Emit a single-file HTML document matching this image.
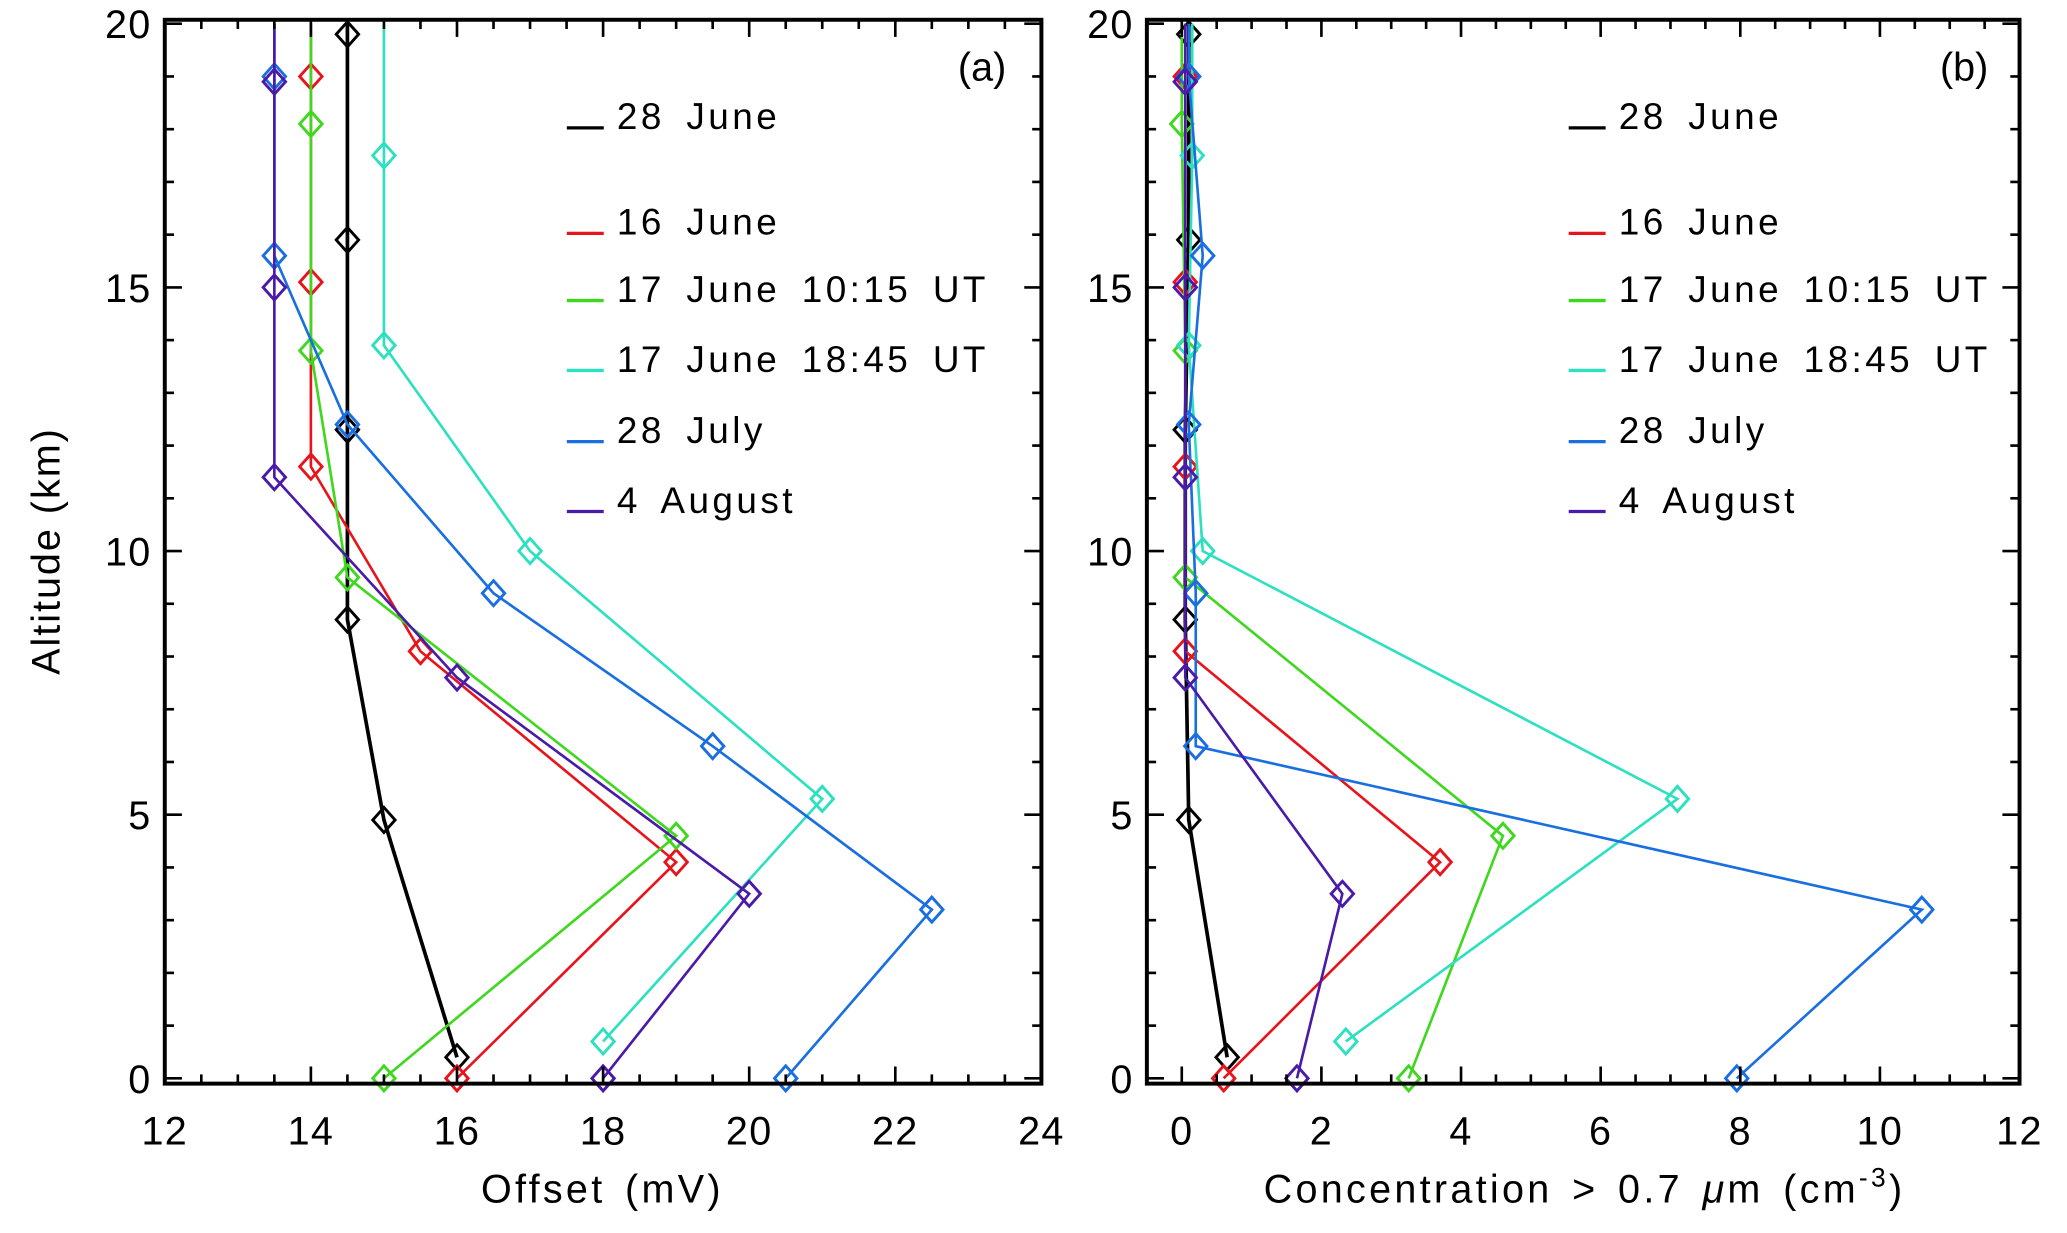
<!DOCTYPE html>
<html><head><meta charset="utf-8"><style>
html,body{margin:0;padding:0;background:#fff;}
svg{display:block;font-family:"Liberation Sans",sans-serif;}
</style></head><body>
<svg id="chart" width="2067" height="1233" viewBox="0 0 1568 935.3" preserveAspectRatio="none" xmlns="http://www.w3.org/2000/svg">
<rect width="1568" height="935.3" fill="#fff"/>
<g id="root"></g>
</svg>
<script>
const seriesNames = ["28 June","16 June","17 June 10:15 UT","17 June 18:45 UT","28 July","4 August"];
const seriesColors = ["#000000","#e8141c","#3fd81e","#2de0c0","#1a6fe0","#4a1aa8"];
const altBlack = [19.8,15.9,12.3,8.7,4.9,0.4];
const altRed = [19,15.1,11.6,8.1,4.1,0];
const altGreen = [18.1,13.8,9.5,4.6,0];
const altCyan = [17.5,13.9,10,5.3,0.7];
const altBlue = [19,15.6,12.4,9.2,6.3,3.2,0];
const altPurple = [18.9,15,11.4,7.6,3.5,0];
const offBlack = [14.5,14.5,14.5,14.5,15,16];
const offRed = [14,14,14,15.5,19,16];
const offGreen = [14,14,14.5,19,15];
const offCyan = [15,15,17,21,18];
const offBlue = [13.5,13.5,14.5,16.5,19.5,22.5,20.5];
const offPurple = [13.5,13.5,13.5,16,20,18];
const concBlack = [0.1,0.1,0.05,0.05,0.1,0.65];
const concRed = [0.05,0.05,0.05,0.05,3.7,0.6];
const concGreen = [0,0.05,0.05,4.6,3.25];
const concCyan = [0.15,0.1,0.3,7.1,2.35];
const concBlue = [0.1,0.3,0.1,0.2,0.2,10.6,7.95];
const concPurple = [0.05,0.05,0.05,0.05,2.3,1.65];
const xTicksA = [12,14,16,18,20,22,24];
const xTicksB = [0,2,4,6,8,10,12];
const yTicks = [0,5,10,15,20];

const NS="http://www.w3.org/2000/svg";
const root=document.getElementById('root');
function mk(tag,attrs,parent){const e=document.createElementNS(NS,tag);for(const k in attrs)e.setAttribute(k,attrs[k]);(parent||root).appendChild(e);return e;}

const alts=[altBlack,altRed,altGreen,altCyan,altBlue,altPurple];
const panels=[
 {id:'a',x0:125,x1:790,xmin:12,xmax:24,minor:0.5,ticks:xTicksA,vals:[offBlack,offRed,offGreen,offCyan,offBlue,offPurple],title:'Offset (mV)',tx:457,label:'(a)',lx:745,legX:430},
 {id:'b',x0:870,x1:1532,xmin:-0.5,xmax:12,minor:0.5,ticks:xTicksB,vals:[concBlack,concRed,concGreen,concCyan,concBlue,concPurple],title:null,tx:1202,label:'(b)',lx:1490,legX:1190}
];
const yTop=15,yBot=822;
function Y(v){return 818-(v)*40;}
const legY=[87,167,218,271,325,378];

panels.forEach(p=>{
  const g=mk('g',{});
  
  
  const X=v=>p.x0+(v-p.xmin)*(p.x1-p.x0)/(p.xmax-p.xmin);
  p.vals.forEach((vals,i)=>{
    const sg=mk('g',{},g);
    
    
    const al=alts[i];
    let pts=[[X(vals[0]),Y(20)]];
    vals.forEach((v,j)=>pts.push([X(v),Y(al[j])]));
    const pl=mk('polyline',{points:pts.map(q=>q.join(',')).join(' '),fill:'none',stroke:seriesColors[i],'stroke-width':i==0?2.8:2},sg);
    
    
    vals.forEach((v,j)=>{
      const cx=X(v),cy=Y(al[j]);
      const d=mk('polygon',{points:`${cx},${cy-9.5} ${cx+8.5},${cy} ${cx},${cy+9.5} ${cx-8.5},${cy}`,fill:'none',stroke:seriesColors[i],'stroke-width':2.2},sg);
      
      
    });
  });
  const fr=mk('rect',{x:p.x0,y:yTop,width:p.x1-p.x0,height:yBot-yTop,fill:'none',stroke:'#000','stroke-width':3},g);
  
  
  for(let v=Math.ceil(p.xmin/p.minor)*p.minor; v<=p.xmax+1e-9; v+=p.minor){
    const major=Math.abs(v/2-Math.round(v/2))<1e-9;
    const L=major?13:7;const x=X(v);
    mk('line',{x1:x,y1:yBot,x2:x,y2:yBot-L,stroke:'#000','stroke-width':2},g);
    mk('line',{x1:x,y1:yTop,x2:x,y2:yTop+L,stroke:'#000','stroke-width':2},g);
  }
  p.ticks.forEach(v=>{
    const t=mk('text',{x:X(v),y:868,'font-size':30,'text-anchor':'middle',fill:'#000','letter-spacing':1},g);
    t.textContent=v;
    
    
  });
  for(let v=0;v<=20;v++){
    const L=(v%5==0)?13:7;const y=Y(v);
    mk('line',{x1:p.x0,y1:y,x2:p.x0+L,y2:y,stroke:'#000','stroke-width':2},g);
    mk('line',{x1:p.x1,y1:y,x2:p.x1-L,y2:y,stroke:'#000','stroke-width':2},g);
  }
  yTicks.forEach(v=>{
    const t=mk('text',{x:p.x0-10,y:Y(v)+11,'font-size':30,'text-anchor':'end',fill:'#000','letter-spacing':1},g);
    t.textContent=v;
    
    
  });
  const pl=mk('text',{x:p.lx,y:61,'font-size':30,'text-anchor':'middle',fill:'#000'},g);
  pl.textContent=p.label;
  
  
  const lg=mk('g',{},g);
  
  
  seriesNames.forEach((n,i)=>{
    const e=mk('g',{},lg);
    
    
    mk('line',{x1:p.legX,y1:legY[i]+10,x2:p.legX+28,y2:legY[i]+10,stroke:seriesColors[i],'stroke-width':2.5},e);
    const t=mk('text',{x:p.legX+38,y:legY[i]+11,'font-size':28,fill:'#000','letter-spacing':2.6,'word-spacing':6},e);
    t.textContent=n;
  });
  const xt=mk('text',{x:p.tx,y:912,'font-size':30,'text-anchor':'middle',fill:'#000','letter-spacing':2.5,'word-spacing':4},g);
  if(p.title){xt.textContent=p.title;}
  else{
    xt.appendChild(document.createTextNode('Concentration > 0.7 '));
    const it=mk('tspan',{'font-style':'italic'},xt);it.textContent='\u03bc';
    xt.appendChild(document.createTextNode('m (cm'));
    const sp=mk('tspan',{dy:-12,'font-size':20},xt);sp.textContent='-3';
    const cl=mk('tspan',{dy:12},xt);cl.textContent=')';
  }
  
  
});
const yt=mk('text',{x:0,y:0,'font-size':30,'text-anchor':'middle',fill:'#000',transform:'translate(45,418) rotate(-90)','letter-spacing':1.5});
yt.textContent='Altitude (km)';


</script>
</body></html>
